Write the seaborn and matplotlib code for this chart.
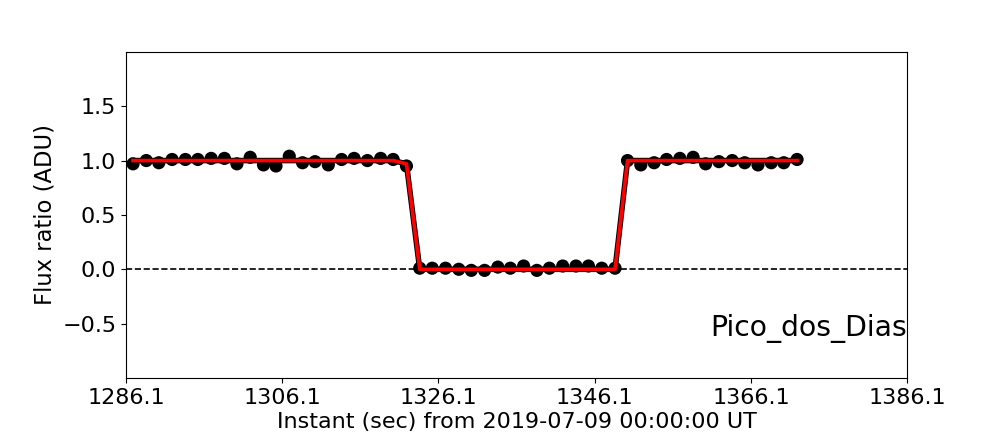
import numpy as np
import pandas as pd
import matplotlib
matplotlib.use("Agg")
import matplotlib.pyplot as plt
import seaborn as sns

# ---------------------------------------------------------------------------
# Data
# ---------------------------------------------------------------------------

times = [
    1287.0, 1288.7, 1290.3, 1292.0, 1293.7, 1295.3, 1297.0, 1298.7, 1300.3, 1302.0,
    1303.7, 1305.3, 1307.0, 1308.7, 1310.3, 1312.0, 1313.7, 1315.3, 1317.0, 1318.7,
    1320.3, 1322.0,
    1323.7, 1325.3, 1327.0, 1328.7, 1330.3, 1332.0, 1333.7, 1335.3, 1337.0, 1338.7,
    1340.3, 1342.0, 1343.7, 1345.3, 1347.0, 1348.7,
    1350.3, 1352.0, 1353.7, 1355.3, 1357.0, 1358.7, 1360.3, 1362.0, 1363.7, 1365.3,
    1367.0, 1368.7, 1370.3, 1372.0,
]
flux = [
    0.97, 1.00, 0.98, 1.01, 1.01, 1.01, 1.02, 1.02, 0.97, 1.03,
    0.96, 0.95, 1.04, 0.98, 0.99, 0.96, 1.01, 1.02, 1.00, 1.02,
    1.01, 0.95,
    0.01, 0.01, 0.01, 0.00, -0.01, -0.01, 0.02, 0.01, 0.03, -0.01,
    0.01, 0.03, 0.03, 0.03, 0.01, 0.01,
    1.00, 0.96, 0.98, 1.01, 1.02, 1.03, 0.97, 0.99, 1.00, 0.98,
    0.96, 0.98, 0.98, 1.01,
]
model = [
    1.0, 1.0, 1.0, 1.0, 1.0, 1.0, 1.0, 1.0, 1.0, 1.0,
    1.0, 1.0, 1.0, 1.0, 1.0, 1.0, 1.0, 1.0, 1.0, 1.0,
    1.0, 0.97,
    0.0, 0.0, 0.0, 0.0, 0.0, 0.0, 0.0, 0.0, 0.0, 0.0,
    0.0, 0.0, 0.0, 0.0, 0.0, 0.0,
    1.0, 1.0, 1.0, 1.0, 1.0, 1.0, 1.0, 1.0, 1.0, 1.0,
    1.0, 1.0, 1.0, 1.0,
]
xticks = [1286.1, 1306.1, 1326.1, 1346.1, 1366.1, 1386.1]
yticks = [-0.5, 0.0, 0.5, 1.0, 1.5]
site = "Pico_dos_Dias"
xlabel = "Instant (sec) from 2019-07-09 00:00:00 UT"
ylabel = "Flux ratio (ADU)"

df = pd.DataFrame({"time": times, "flux": flux, "model": model})

# ---------------------------------------------------------------------------
# Plot
# ---------------------------------------------------------------------------

fig, ax = plt.subplots(figsize=(10.08, 4.32), dpi=100)
fig.subplots_adjust(left=0.125, right=0.9, bottom=0.125, top=0.88)

sns.scatterplot(data=df, x="time", y="flux", ax=ax, color="black",
                s=90, edgecolor="none", zorder=2)
# dark outline under the red model curve
sns.lineplot(data=df, x="time", y="model", ax=ax, color="black",
             linewidth=4.0, zorder=3)
sns.lineplot(data=df, x="time", y="model", ax=ax, color="red",
             linewidth=2.6, zorder=4)
ax.axhline(0, color="black", linestyle="--", linewidth=1.2, zorder=1)

ax.text(xticks[-1], -0.61, site, ha="right", va="baseline", fontsize=20.3)

ax.set_xlim(xticks[0], xticks[-1])
ax.set_ylim(-1.0, 2.0)
ax.set_xticks(xticks)
ax.set_xticklabels([f"{t:.1f}" for t in xticks])
ax.set_yticks(yticks)
ax.tick_params(labelsize=16)
ax.set_xlabel(xlabel, fontsize=16, labelpad=3)
ax.set_ylabel(ylabel, fontsize=16.3)

plt.savefig("out.png", dpi=100)
plt.close()
